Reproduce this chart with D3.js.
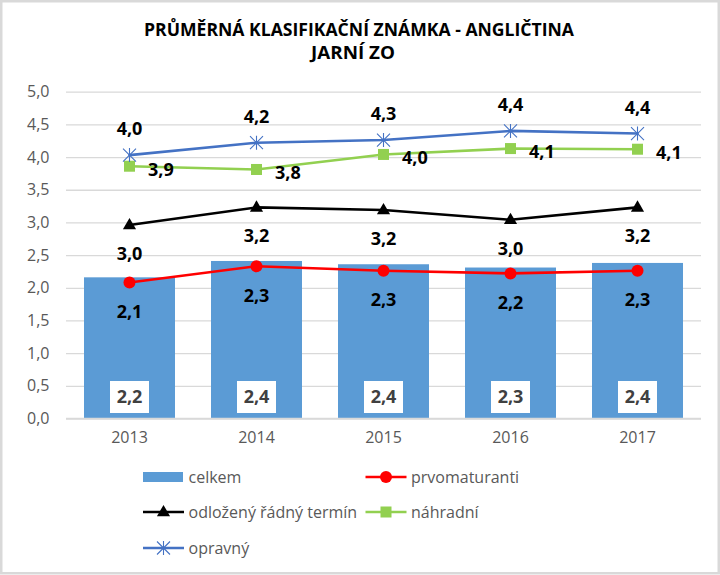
<!DOCTYPE html>
<html>
<head>
<meta charset="utf-8">
<script src="https://cdn.jsdelivr.net/npm/d3@7"></script>
<style>
  html, body { margin: 0; padding: 0; background: #fff; }
  svg { display: block; }
</style>
</head>
<body>
<svg id="chart" width="720" height="575"></svg>
<script>
const titleLines = ["PRŮMĚRNÁ KLASIFIKAČNÍ ZNÁMKA - ANGLIČTINA", "JARNÍ ZO"];
const years = ["2013", "2014", "2015", "2016", "2017"];
const celkem = [2.16, 2.41, 2.36, 2.31, 2.38];
const prvomaturanti = [2.08, 2.33, 2.26, 2.22, 2.26];
const odlozeny = [2.96, 3.23, 3.19, 3.04, 3.23];
const nahradni = [3.86, 3.81, 4.04, 4.13, 4.12];
const opravny = [4.03, 4.22, 4.26, 4.40, 4.36];
const yTicks = [0, 0.5, 1, 1.5, 2, 2.5, 3, 3.5, 4, 4.5, 5];
const seriesNames = ["celkem", "prvomaturanti", "odložený řádný termín", "náhradní", "opravný"];

const fmt = v => v.toFixed(1).replace(".", ",");
const FONT = "'Open Sans', 'DejaVu Sans', sans-serif";

const svg = d3.select("#chart");

// outer border
svg.append("rect").attr("x", 1.25).attr("y", 1.25).attr("width", 717.5).attr("height", 572)
  .attr("fill", "#fff").attr("stroke", "#d9d9d9").attr("stroke-width", 2.5);

// title
const tl = svg.append("g").attr("font-family", FONT).attr("font-weight", 700)
  .attr("font-size", 18).attr("fill", "#000").attr("text-anchor", "middle");
tl.append("text").attr("x", 359).attr("y", 36).text(titleLines[0])
  .attr("textLength", 430).attr("lengthAdjust", "spacingAndGlyphs");
tl.append("text").attr("x", 353).attr("y", 58.5).text(titleLines[1])
  .attr("textLength", 84).attr("lengthAdjust", "spacingAndGlyphs");

// scales
const x = d3.scaleBand().domain(years).range([66, 701]).paddingInner(0.2835).paddingOuter(0.1417);
const y = d3.scaleLinear().domain([0, 5]).range([418.5, 91.7]);
const cx = d => x(d) + x.bandwidth() / 2;

// gridlines
const grid = d3.axisLeft(y).tickValues(yTicks).tickSize(-(701 - 66)).tickFormat("");
svg.append("g").attr("transform", "translate(66,0)").call(grid)
  .call(g => g.select(".domain").remove())
  .call(g => g.selectAll("line").attr("stroke", "#d9d9d9").attr("stroke-width", 1.3));

// y axis labels
const yAxis = d3.axisLeft(y).tickValues(yTicks).tickSize(0).tickPadding(16.5).tickFormat(fmt);
svg.append("g").attr("transform", "translate(66,0)").call(yAxis)
  .call(g => g.select(".domain").remove())
  .call(g => g.selectAll("text").attr("font-family", FONT).attr("font-size", 16).attr("fill", "#595959"));

// bars
svg.append("g").selectAll("rect").data(celkem).join("rect")
  .attr("x", (d, i) => x(years[i])).attr("width", x.bandwidth())
  .attr("y", d => y(d)).attr("height", d => y(0) - y(d))
  .attr("fill", "#5b9bd5");

// x axis labels
const xAxis = d3.axisBottom(x).tickSize(0).tickPadding(13);
svg.append("g").attr("transform", `translate(0,${y(0)})`).call(xAxis)
  .call(g => g.select(".domain").remove())
  .call(g => g.selectAll("text").attr("font-family", FONT).attr("font-size", 16).attr("fill", "#595959"));

// baseline axis line
svg.append("line").attr("x1", 66).attr("x2", 701).attr("y1", y(0)).attr("y2", y(0))
  .attr("stroke", "#d9d9d9").attr("stroke-width", 1.3);

// bar labels in white boxes
const bl = svg.append("g");
celkem.forEach((v, i) => {
  const c = cx(years[i]);
  bl.append("rect").attr("x", c - 19.5).attr("y", y(0) - 37.5).attr("width", 39).attr("height", 32).attr("fill", "#fff");
  bl.append("text").attr("x", c).attr("y", y(0) - 21.5).attr("dy", "0.35em")
    .attr("text-anchor", "middle").attr("font-family", FONT).attr("font-weight", 700)
    .attr("font-size", 18).attr("fill", "#404040").text(fmt(v));
});

// marker helpers
function drawMarker(g, type, px, py, color) {
  if (type === "circle") {
    g.append("circle").attr("cx", px).attr("cy", py).attr("r", 6).attr("fill", color);
  } else if (type === "square") {
    g.append("rect").attr("x", px - 5.5).attr("y", py - 5.5).attr("width", 11).attr("height", 11).attr("fill", color);
  } else if (type === "triangle") {
    g.append("path").attr("d", d3.symbol(d3.symbolTriangle, 75)()).attr("transform", `translate(${px},${py + 0.5})`).attr("fill", color);
  } else if (type === "star") {
    const s = 6.5;
    g.append("path")
      .attr("d", `M${px - s},${py - s}L${px + s},${py + s}M${px - s},${py + s}L${px + s},${py - s}M${px},${py - s - 0.5}L${px},${py + s + 0.5}`)
      .attr("stroke", color).attr("stroke-width", 1.1).attr("fill", "none");
  }
}

const lineSeries = [
  { name: seriesNames[1], data: prvomaturanti, color: "#ff0000", marker: "circle", lab: { dx: 0, dy: 29, anchor: "middle" } },
  { name: seriesNames[2], data: odlozeny, color: "#000000", marker: "triangle", lab: { dx: 0, dy: 28.5, anchor: "middle" } },
  { name: seriesNames[3], data: nahradni, color: "#92d050", marker: "square", lab: { dx: 18.5, dy: 3, anchor: "start" } },
  { name: seriesNames[4], data: opravny, color: "#4472c4", marker: "star", lab: { dx: 0, dy: -26, anchor: "middle" } }
];

const line = d3.line().x((d, i) => cx(years[i])).y(d => y(d));

lineSeries.forEach(s => {
  const g = svg.append("g");
  g.append("path").attr("d", line(s.data)).attr("fill", "none").attr("stroke", s.color)
    .attr("stroke-width", 2.6).attr("stroke-linejoin", "round").attr("stroke-linecap", "round");
  s.data.forEach((v, i) => drawMarker(g, s.marker, cx(years[i]), y(v), s.color));
});

// line labels (drawn after all lines)
lineSeries.forEach(s => {
  const g = svg.append("g");
  s.data.forEach((v, i) => {
    g.append("text").attr("x", cx(years[i]) + s.lab.dx).attr("y", y(v) + s.lab.dy).attr("dy", "0.35em")
      .attr("text-anchor", s.lab.anchor).attr("font-family", FONT).attr("font-weight", 700)
      .attr("font-size", 18).attr("fill", "#000").text(fmt(v));
  });
});

// legend
const leg = svg.append("g").attr("font-family", FONT).attr("font-size", 16).attr("fill", "#595959");
const legendItems = [
  { name: seriesNames[0], type: "bar", color: "#5b9bd5", x: 143, y: 477 },
  { name: seriesNames[1], type: "circle", color: "#ff0000", x: 365.5, y: 477 },
  { name: seriesNames[2], type: "triangle", color: "#000000", x: 143, y: 512 },
  { name: seriesNames[3], type: "square", color: "#92d050", x: 365.5, y: 512 },
  { name: seriesNames[4], type: "star", color: "#4472c4", x: 143, y: 548 }
];
legendItems.forEach(it => {
  if (it.type === "bar") {
    leg.append("rect").attr("x", it.x).attr("y", it.y - 5).attr("width", 40).attr("height", 10).attr("fill", it.color);
  } else {
    leg.append("line").attr("x1", it.x).attr("x2", it.x + 41).attr("y1", it.y).attr("y2", it.y)
      .attr("stroke", it.color).attr("stroke-width", 2.6);
    drawMarker(leg, it.type, it.x + 20.5, it.y, it.color);
  }
  leg.append("text").attr("x", it.x + 45.5).attr("y", it.y).attr("dy", "0.35em").text(it.name);
});
</script>
</body>
</html>
